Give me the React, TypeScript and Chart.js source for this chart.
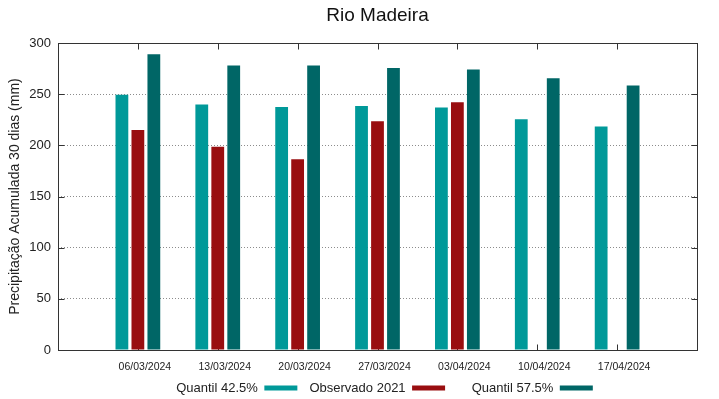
import React, { useEffect, useRef } from 'react';
import { Chart, registerables } from 'chart.js';

Chart.register(...registerables);

const chartTitle = 'Rio Madeira';
const yAxisTitle = 'Precipitação Acumulada 30 dias (mm)';
const categories = ['06/03/2024', '13/03/2024', '20/03/2024', '27/03/2024', '03/04/2024', '10/04/2024', '17/04/2024'];
const seriesNames = ['Quantil 42.5%', 'Observado 2021', 'Quantil 57.5%'];
const quantil425 = [249.5, 240, 237.5, 238.5, 237, 225.5, 218.5];
const observado2021 = [215, 198.5, 186.5, 223.5, 242, null, null];
const quantil575 = [289, 278, 278, 275.5, 274, 265.5, 258.5];
const seriesColors = ['#009999', '#990e10', '#006666'];
const yMin = 0;
const yMax = 300;
const yStep = 50;
// extra leading gap (in spaces) before each legend entry, mimicking gnuplot's fixed-width key columns
const legendGapSpaces = [0, 1, 5];

const pad = (arr: (number | null)[]) => [null, ...arr, null];

const framePlugin = {
  id: 'gnuFrame',
  afterLayout(chart: any) {
    // gnuplot's key sits slightly right of the plot centre
    if (chart.legend) {
      chart.legend.left += 7;
      chart.legend.right += 7;
    }
  },
  beforeDatasetsDraw(chart: any) {
    const { ctx, chartArea: a, scales } = chart;
    const xs = scales.x;
    const ys = scales.y;
    const L = Math.floor(a.left) + 0.5;
    const R = Math.floor(a.right) + 0.5;
    const T = Math.floor(a.top) + 0.5;
    const B = Math.floor(a.bottom) + 0.5;
    ctx.save();
    ctx.strokeStyle = '#333';
    ctx.lineWidth = 1;
    ctx.beginPath();
    for (let i = 1; i <= categories.length; i++) {
      const x = Math.round(xs.getPixelForValue(i)) + 0.5;
      ctx.moveTo(x, T);
      ctx.lineTo(x, T + 6);
      ctx.moveTo(x, B);
      ctx.lineTo(x, B - 6);
    }
    for (const t of ys.ticks) {
      const y = Math.round(ys.getPixelForValue(t.value)) + 0.5;
      ctx.moveTo(L, y);
      ctx.lineTo(L + 6, y);
      ctx.moveTo(R, y);
      ctx.lineTo(R - 6, y);
    }
    ctx.stroke();
    ctx.restore();
  },
  afterDatasetsDraw(chart: any) {
    const { ctx, chartArea: a } = chart;
    const L = Math.floor(a.left) + 0.5;
    const R = Math.floor(a.right) + 0.5;
    const T = Math.floor(a.top) + 0.5;
    const B = Math.floor(a.bottom) + 0.5;
    ctx.save();
    ctx.strokeStyle = '#333';
    ctx.lineWidth = 1;
    ctx.strokeRect(L, T, R - L, B - T);
    ctx.restore();
  },
};

export default function App() {
  const ref = useRef<HTMLCanvasElement | null>(null);

  useEffect(() => {
    if (!ref.current) return;
    Chart.defaults.font.family = "'Liberation Sans', Arial, sans-serif";
    Chart.defaults.color = '#222';
    const defaultGenerate = (Chart.defaults as any).plugins.legend.labels.generateLabels;
    const chart = new Chart(ref.current, {
      type: 'bar',
      data: {
        labels: ['', ...categories, ''],
        datasets: [
          { label: seriesNames[0], data: pad(quantil425), backgroundColor: seriesColors[0], borderWidth: 0 },
          { label: seriesNames[1], data: pad(observado2021), backgroundColor: seriesColors[1], borderWidth: 0 },
          { label: seriesNames[2], data: pad(quantil575), backgroundColor: seriesColors[2], borderWidth: 0 },
        ],
      },
      options: {
        responsive: false,
        animation: false,
        events: [],
        datasets: { bar: { categoryPercentage: 0.6, barPercentage: 0.8 } },
        layout: { padding: { left: 0, right: 22, top: 0, bottom: 0 } },
        scales: {
          x: {
            type: 'category',
            offset: false,
            grid: { display: false, drawTicks: false },
            border: { display: false },
            ticks: { autoSkip: false, maxRotation: 0, minRotation: 0, padding: 11.2, labelOffset: 7, font: { size: 10.5 }, color: '#222' },
            afterFit: (s: any) => { s.height = 23; },
          },
          y: {
            min: yMin,
            max: yMax,
            ticks: { stepSize: yStep, padding: 7, font: { size: 13 }, color: '#222' },
            grid: { color: '#8c8c8c', lineWidth: 1, drawTicks: false },
            border: { display: false, dash: [1, 2] },
            title: { display: true, text: yAxisTitle, font: { size: 14 }, color: '#222', padding: { top: 7, bottom: 0 } },
            afterFit: (s: any) => { s.width = 58; },
          },
        },
        plugins: {
          title: {
            display: true,
            text: chartTitle,
            fullSize: false,
            font: { size: 19, weight: 'normal' },
            color: '#111',
            padding: { top: 4, bottom: 16.2 },
          },
          legend: {
            display: true,
            position: 'bottom',
            fullSize: false,
            rtl: true,
            reverse: true,
            maxHeight: 26,
            labels: {
              boxWidth: 33,
              boxHeight: 5,
              padding: 8.5,
              font: { size: 13 },
              color: '#222',
              generateLabels: (c: any) =>
                defaultGenerate(c).map((item: any) => ({
                  ...item,
                  text: ' '.repeat(legendGapSpaces[item.datasetIndex] || 0) + item.text,
                })),
            },
          },
          tooltip: { enabled: false },
        },
      },
      plugins: [framePlugin],
    } as any);
    return () => chart.destroy();
  }, []);

  return (
    <div style={{ position: 'absolute', left: 0, top: 0, width: 719, height: 399, background: '#fff' }}>
      <canvas ref={ref} width={719} height={399} />
    </div>
  );
}
